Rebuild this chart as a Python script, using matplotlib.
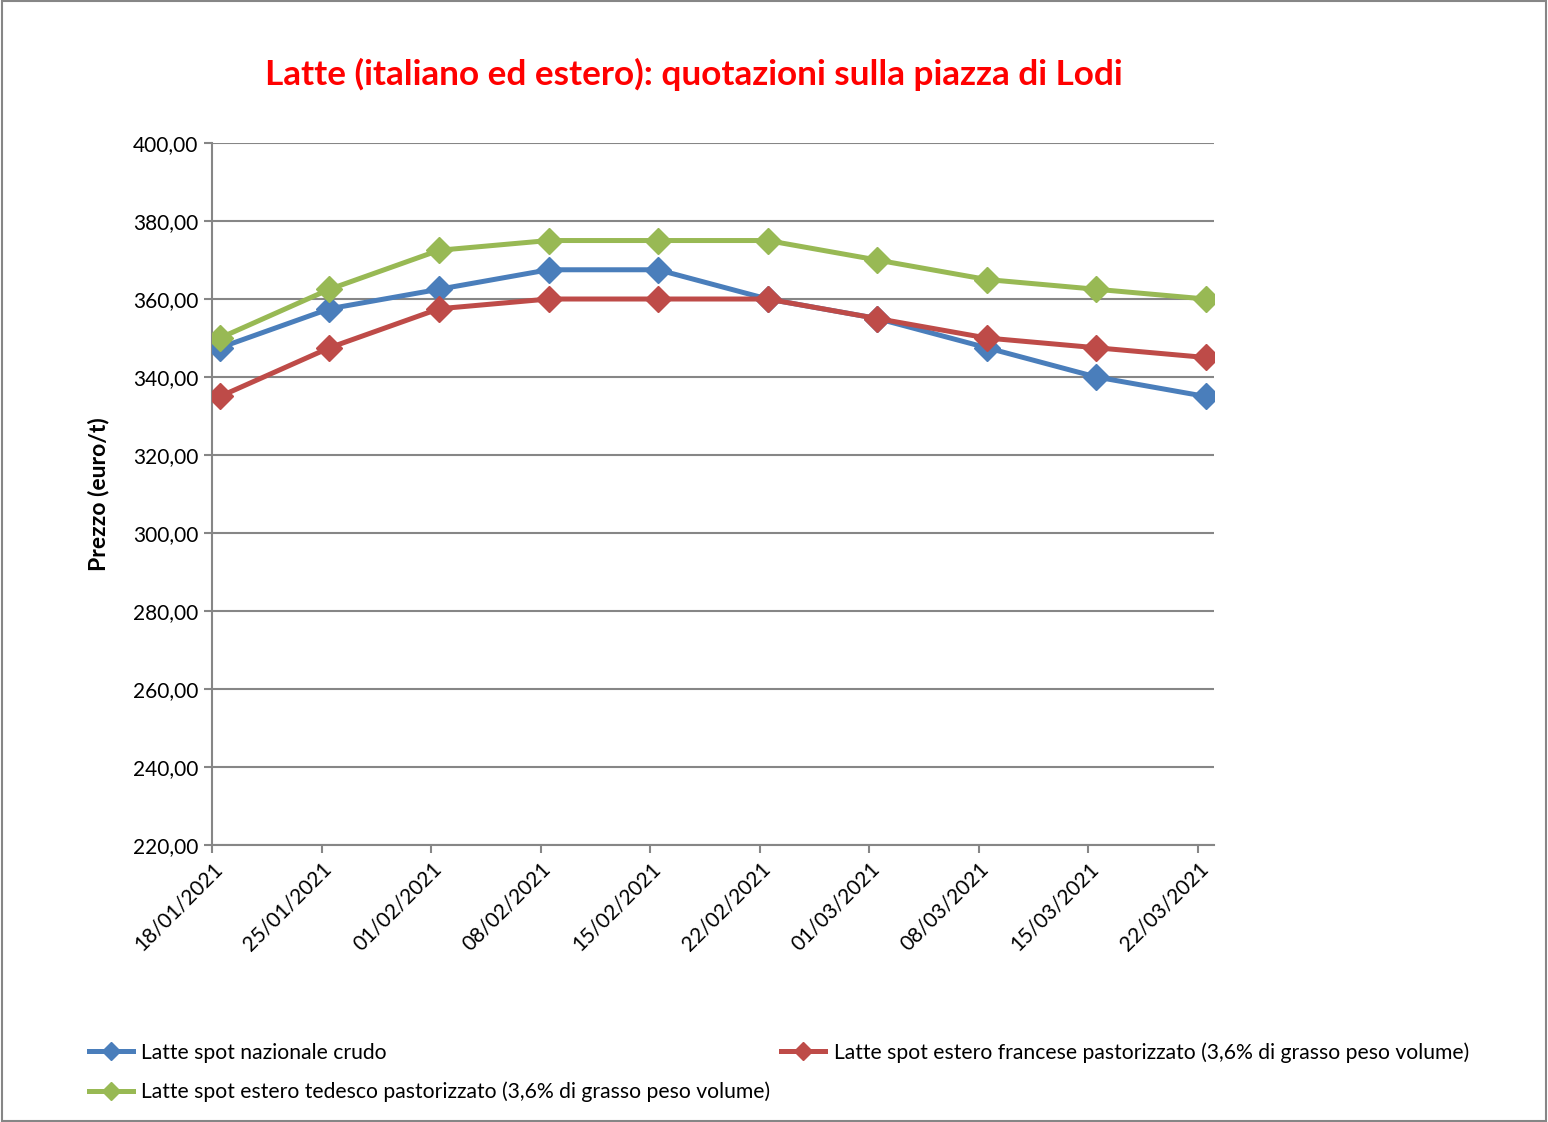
import numpy as np
import matplotlib.pyplot as plt
from matplotlib.patches import Rectangle

# Date settimanali (etichette asse x)
dates = ["18/01/2021", "25/01/2021", "01/02/2021", "08/02/2021", "15/02/2021",
         "22/02/2021", "01/03/2021", "08/03/2021", "15/03/2021", "22/03/2021"]

# Quotazioni (euro/t)
nazionale = [347.5, 357.5, 362.5, 367.5, 367.5, 360.0, 355.0, 347.5, 340.0, 335.0]
francese = [335.0, 347.5, 357.5, 360.0, 360.0, 360.0, 355.0, 350.0, 347.5, 345.0]
tedesco = [350.0, 362.5, 372.5, 375.0, 375.0, 375.0, 370.0, 365.0, 362.5, 360.0]

labels = ["Latte spot nazionale crudo",
          "Latte spot estero francese pastorizzato (3,6% di grasso peso volume)",
          "Latte spot estero tedesco pastorizzato (3,6% di grasso peso volume)"]
colors = ["#4A7EBB", "#BE4B48", "#98B954"]

plt.rcParams['font.family'] = ['Lato', 'DejaVu Sans']

fig = plt.figure(figsize=(15.48, 11.22), dpi=100)
ax = fig.add_axes([0.137, 0.247, 0.647, 0.6255])

# asse temporale in giorni: punti al centro del giorno, tacche all'inizio
days = np.arange(len(dates)) * 7
xpts = days + 0.5

handles = []
for y, lab, c in zip([nazionale, francese, tedesco], labels, colors):
    h, = ax.plot(xpts, y, color=c, lw=3.6, marker="D", markersize=13.5,
                 label=lab, zorder=3)
    handles.append(h)

ax.set_xlim(0, days[-1] + 1)
ax.set_ylim(220, 400)
ax.set_yticks(np.arange(220, 401, 20))
ax.set_yticklabels([f"{v:.2f}".replace(".", ",") for v in np.arange(220, 401, 20)],
                   fontsize=15)
ax.set_xticks(days)
ax.set_xticklabels(dates, rotation=45, ha="right", rotation_mode="anchor", fontsize=15)
ax.grid(axis="y", color="#868686", lw=1.5)
ax.set_axisbelow(True)
for s in ["top", "right"]:
    ax.spines[s].set_visible(False)
for s in ["left", "bottom"]:
    ax.spines[s].set_color("#868686")
    ax.spines[s].set_linewidth(1.5)
ax.tick_params(color="#868686", width=1.5, length=6, pad=4)
ax.set_ylabel("Prezzo (euro/t)", fontsize=16.5, fontweight="bold", labelpad=17)

fig.suptitle("Latte (italiano ed estero): quotazioni sulla piazza di Lodi",
             x=0.448, y=0.948, color="#FF0000", fontsize=25.3, fontweight="bold")

# legenda: blu e verde nella prima colonna, rosso nella seconda
fig.legend([handles[0], handles[2], handles[1]],
           [labels[0], labels[2], labels[1]],
           ncol=2, loc="upper left", bbox_to_anchor=(0.045, 0.088),
           frameon=False, fontsize=15.2, handlelength=2.1, handletextpad=0.4,
           markerscale=0.65, columnspacing=0.5, labelspacing=0.9)

fig.patches.append(Rectangle((0.001, 0.001), 0.998, 0.998, transform=fig.transFigure,
                             fill=False, edgecolor="#868686", lw=1.5))

fig.savefig("out.png", dpi=100)
